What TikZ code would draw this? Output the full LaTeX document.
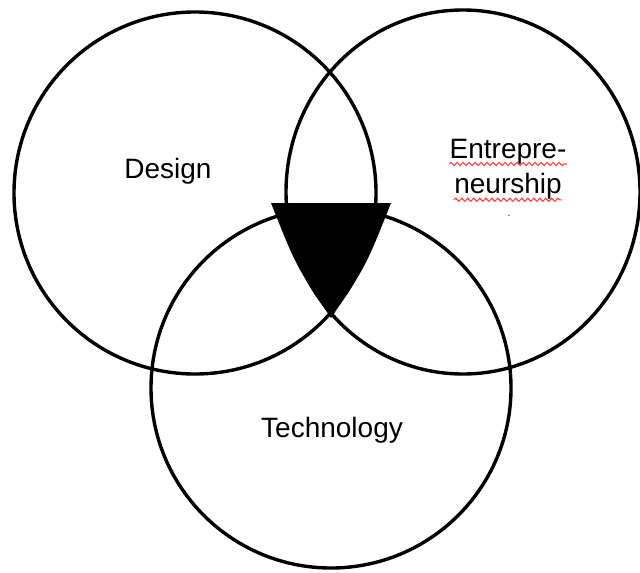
\documentclass[tikz,border=0pt]{standalone}
\usepackage{fontspec}
\setmainfont{Liberation Sans}
\usetikzlibrary{positioning, shapes.geometric, decorations.pathmorphing}

\begin{document}
\begin{tikzpicture}[
    x=0.5pt, y=-0.5pt,
    ring/.style={draw, line width=1.7pt, inner sep=0pt},
    word/.style={inner sep=0pt, anchor=base, font=\fontsize{14}{16.8}\selectfont},
    squiggle/.style={red!75, line width=0.55pt, decorate, decoration={snake, amplitude=0.8pt, segment length=3pt}}
]
\useasboundingbox (0,0) rectangle (640,572);
\clip (0,0) rectangle (640,572);

% the three sets
\node[ring, circle, minimum size=181pt] (design) at (195,193) {};
\node[ring, ellipse, minimum width=177pt, minimum height=182pt] (entre) at (463,192) {};
\node[ring, circle, minimum size=180pt] (tech) at (331,388) {};

% common part
\fill (271,203) -- (391,203) .. controls (366,266) .. (331,318)
      .. controls (296,266) .. (271,203) -- cycle;

% labels
\node[word] (designtxt) at (168,178) {Design};
\node[word] (techtxt) at (332,437) {Technology};
\node[word] (entretxt) at (508,158) {Entrepre-};
\node[word] (neurtxt) at (508,193) {neurship};
\node[word, font=\tiny] (dot) at (509,216) {.};

\draw[squiggle] ([yshift=-3pt]entretxt.base west) -- ([yshift=-3pt]entretxt.base east);
\draw[squiggle] ([yshift=-3.4pt]neurtxt.base west) -- ([yshift=-3.4pt]neurtxt.base east);
\end{tikzpicture}
\end{document}
